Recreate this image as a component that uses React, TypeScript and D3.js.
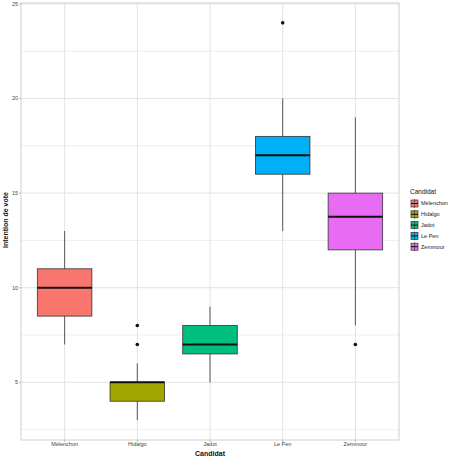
import React from "react";
import * as d3 from "d3";

const candidates = ["Mélenchon", "Hidalgo", "Jadot", "Le Pen", "Zemmour"];
const whiskerLow = [7, 3, 5, 13, 8];
const q1 = [8.5, 4, 6.5, 16, 12];
const median = [10, 5, 7, 17, 13.75];
const q3 = [11, 5, 8, 18, 15];
const whiskerHigh = [13, 6, 9, 20, 19];
const outliers: number[][] = [[], [7, 8], [], [24], [7]];
const colors = ["#F8766D", "#A3A500", "#00BF7D", "#00B0F6", "#E76BF3"];
const yTicks = [5, 10, 15, 20, 25];
const yMinor = [2.5, 7.5, 12.5, 17.5, 22.5];

const FONT = "'Liberation Sans', Arial, sans-serif";

export default function App() {
  const W = 460, H = 460;
  const left = 21, right = 399, top = 3, bottom = 440;
  const y = d3.scaleLinear().domain([1.95, 25.05]).range([bottom, top]);
  const x = d3.scaleBand().domain(candidates).range([left, right]).paddingOuter(0.1).paddingInner(0);
  const cx = (c: string) => (x(c) as number) + x.bandwidth() / 2;
  const bw = x.bandwidth() * 0.75;
  const grid = "#e3e3e3";
  return (
    <svg width={W} height={H} style={{ position: "absolute", left: 0, top: 0 }} fontFamily={FONT}>
      <rect x={0} y={0} width={W} height={H} fill="white" />
      {yMinor.map((v) => (
        <line key={"m" + v} x1={left} x2={right} y1={y(v)} y2={y(v)} stroke={grid} strokeWidth={0.6} />
      ))}
      {yTicks.map((v) => (
        <line key={"g" + v} x1={left} x2={right} y1={y(v)} y2={y(v)} stroke={grid} strokeWidth={1} />
      ))}
      {candidates.map((c) => (
        <line key={"gx" + c} x1={cx(c)} x2={cx(c)} y1={top} y2={bottom} stroke={grid} strokeWidth={1} />
      ))}
      {candidates.map((c, i) => {
        const xc = cx(c);
        return (
          <g key={c}>
            <line x1={xc} x2={xc} y1={y(whiskerHigh[i])} y2={y(q3[i])} stroke="#333" strokeWidth={0.8} />
            <line x1={xc} x2={xc} y1={y(q1[i])} y2={y(whiskerLow[i])} stroke="#333" strokeWidth={0.8} />
            <rect x={xc - bw / 2} y={y(q3[i])} width={bw} height={y(q1[i]) - y(q3[i])} fill={colors[i]} stroke="#333" strokeWidth={0.8} />
            <line x1={xc - bw / 2} x2={xc + bw / 2} y1={y(median[i])} y2={y(median[i])} stroke="#111" strokeWidth={2} />
            {outliers[i].map((o, j) => (
              <circle key={j} cx={xc} cy={y(o)} r={1.8} fill="#111" />
            ))}
          </g>
        );
      })}
      <rect x={left} y={top} width={right - left} height={bottom - top} fill="none" stroke="#cfcfcf" strokeWidth={1} />
      {yTicks.map((v) => (
        <g key={"t" + v}>
          <line x1={left - 2} x2={left} y1={y(v)} y2={y(v)} stroke="#999" strokeWidth={0.6} />
          <text x={left - 3} y={y(v)} dy="0.35em" textAnchor="end" fontSize={5.5} fill="#444">{v}</text>
        </g>
      ))}
      {candidates.map((c) => (
        <g key={"xt" + c}>
          <line x1={cx(c)} x2={cx(c)} y1={bottom} y2={bottom + 2} stroke="#999" strokeWidth={0.6} />
          <text x={cx(c)} y={444} dy="0.35em" textAnchor="middle" fontSize={5.5} fill="#444">{c}</text>
        </g>
      ))}
      <text x={(left + right) / 2} y={453.5} dy="0.35em" textAnchor="middle" fontSize={7} fontWeight="bold" fill="#111">Candidat</text>
      <text transform={`translate(6,220) rotate(-90)`} dy="0.35em" textAnchor="middle" fontSize={7} fontWeight="bold" fill="#111">Intention de vote</text>
      <text x={410} y={191.5} dy="0.35em" fontSize={6.5} fill="#111">Candidat</text>
      {candidates.map((c, i) => {
        const ky = 203.5 + i * 10.8;
        return (
          <g key={"lg" + c}>
            <rect x={411} y={ky - 3.5} width={7} height={7} fill={colors[i]} stroke="#333" strokeWidth={0.7} />
            <line x1={414.5} x2={414.5} y1={ky - 4.5} y2={ky + 4.5} stroke="#333" strokeWidth={0.6} />
            <line x1={411} x2={418} y1={ky} y2={ky} stroke="#111" strokeWidth={1} />
            <text x={421} y={ky} dy="0.35em" fontSize={5.5} fill="#222">{c}</text>
          </g>
        );
      })}
    </svg>
  );
}
